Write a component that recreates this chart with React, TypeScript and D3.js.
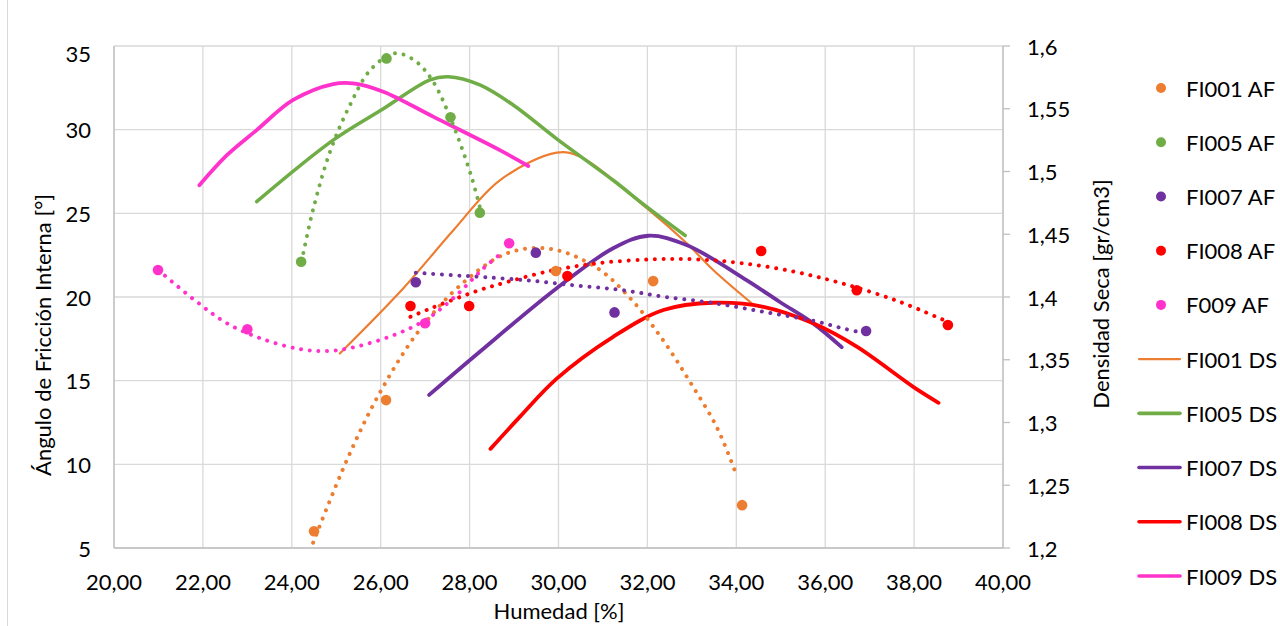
import React from "react";
import * as d3 from "d3";

// ---------- tick labels ----------
const xTicks = [20, 22, 24, 26, 28, 30, 32, 34, 36, 38, 40];
const leftTicks = [5, 10, 15, 20, 25, 30, 35];
const rightTicks = [1.2, 1.25, 1.3, 1.35, 1.4, 1.45, 1.5, 1.55, 1.6];

// ---------- AF points (Ángulo de fricción, left axis) ----------
const fi001AF: [number, number][] = [[24.5, 6.0], [26.12, 13.84], [29.94, 21.55], [32.13, 20.95], [34.13, 7.56]];
const fi005AF: [number, number][] = [[24.21, 22.11], [26.13, 34.26], [27.57, 30.74], [28.23, 25.04]];
const fi007AF: [number, number][] = [[26.79, 20.88], [29.49, 22.65], [31.26, 19.08], [36.92, 17.97]];
const fi008AF: [number, number][] = [[26.67, 19.46], [27.99, 19.46], [30.2, 21.25], [34.56, 22.75], [36.71, 20.4], [38.76, 18.33]];
const f009AF: [number, number][] = [[20.99, 21.61], [23.0, 18.07], [27.0, 18.43], [28.89, 23.21]];

// ---------- AF trendlines ----------
const fi001Trend: [number, number][] = [[24.48, 5.32], [25.24, 10.26], [25.94, 14.08], [26.84, 17.91], [27.85, 20.84], [28.86, 22.63], [29.83, 22.87], [30.87, 21.73], [31.65, 19.82], [32.35, 17.43], [32.96, 14.92], [33.57, 12.17], [34.02, 9.24]];
const fi005Trend: [number, number][] = [[24.26, 22.63], [24.48, 25.24], [24.86, 28.68], [25.29, 31.37], [25.78, 33.61], [26.32, 34.56], [26.77, 34.12], [27.18, 32.87], [27.63, 30.28], [28.03, 27.29], [28.23, 25.38]];
const fi007Trend: [number, number][] = [[26.79, 21.45], [27.63, 21.3], [28.38, 21.18], [29.4, 20.97], [30.41, 20.68], [31.41, 20.42], [32.36, 20.02], [33.48, 19.64], [34.65, 19.1], [35.73, 18.58], [36.45, 18.09], [36.78, 17.9]];
const fi008Trend: [number, number][] = [[26.67, 18.82], [27.18, 19.38], [28.23, 20.42], [28.61, 20.72], [29.73, 21.51], [30.86, 22.01], [32.1, 22.25], [33.11, 22.25], [34.16, 22.01], [35.31, 21.51], [36.37, 20.82], [37.61, 19.78], [38.66, 18.63]];
const f009Trend: [number, number][] = [[21.0, 21.6], [21.84, 19.76], [22.54, 18.43], [23.36, 17.47], [24.18, 16.89], [24.79, 16.77], [25.38, 16.99], [26.28, 17.71], [27.0, 18.62], [27.63, 19.92], [28.31, 21.71], [28.76, 22.71]];

// ---------- DS curves (Densidad seca, right axis) ----------
const fi001DS: [number, number][] = [[25.08, 1.355], [26.51, 1.407], [27.63, 1.453], [28.68, 1.493], [29.96, 1.515], [30.48, 1.512], [31.98, 1.471], [32.88, 1.443], [33.48, 1.4215], [34.38, 1.394]];
const fi005DS: [number, number][] = [[23.21, 1.476], [24.93, 1.525], [26.06, 1.55], [27.11, 1.573], [27.52, 1.5755], [28.23, 1.569], [28.98, 1.553], [29.96, 1.526], [31.23, 1.493], [31.98, 1.472], [32.85, 1.449]];
const fi007DS: [number, number][] = [[27.09, 1.322], [28.23, 1.3564], [29.96, 1.407], [31.23, 1.4388], [32.02, 1.4488], [32.88, 1.4414], [34.23, 1.4135], [34.98, 1.396], [35.73, 1.379], [36.37, 1.36]];
const fi008DS: [number, number][] = [[28.47, 1.279], [29.13, 1.3045], [29.96, 1.335], [31.23, 1.3683], [32.36, 1.3896], [33.48, 1.3954], [34.61, 1.3922], [35.73, 1.379], [36.71, 1.3604], [37.98, 1.3284], [38.55, 1.3157]];
const fi009DS: [number, number][] = [[21.92, 1.489], [22.54, 1.513], [23.21, 1.533], [24.03, 1.557], [24.93, 1.5697], [25.38, 1.5703], [26.06, 1.5636], [27.18, 1.5437], [28.68, 1.517], [29.32, 1.5044]];

const legendNames = ["FI001 AF", "FI005 AF", "FI007 AF", "FI008 AF", "F009 AF", "FI001 DS", "FI005 DS", "FI007 DS", "FI008 DS", "FI009 DS"];

const ORANGE = "#ED7D31";
const GREEN = "#70AD47";
const PURPLE = "#7030A0";
const RED = "#FF0000";
const PINK = "#FF33CC";

const FONT = "Lato, 'Open Sans', sans-serif";

export default function App() {
  const W = 1280, H = 626;
  const x = d3.scaleLinear().domain([20, 40]).range([114, 1003]);
  const yL = d3.scaleLinear().domain([5, 35]).range([548, 46]);
  const yR = d3.scaleLinear().domain([1.2, 1.6]).range([548, 46]);
  const loc = d3.formatLocale({ decimal: ",", thousands: ".", grouping: [3], currency: ["", ""] });
  const fx = loc.format(".2f");
  const fr = loc.format("~g");

  const lineL = d3.line<[number, number]>().x(d => x(d[0])).y(d => yL(d[1])).curve(d3.curveCatmullRom.alpha(0.5));
  const lineR = d3.line<[number, number]>().x(d => x(d[0])).y(d => yR(d[1])).curve(d3.curveCatmullRom.alpha(0.5));

  const ds = [
    { d: fi001DS, c: ORANGE, w: 2.2 },
    { d: fi005DS, c: GREEN, w: 3.6 },
    { d: fi007DS, c: PURPLE, w: 3.8 },
    { d: fi008DS, c: RED, w: 3.8 },
    { d: fi009DS, c: PINK, w: 3.8 },
  ];
  const trends = [
    { d: fi001Trend, c: ORANGE },
    { d: fi005Trend, c: GREEN },
    { d: fi007Trend, c: PURPLE },
    { d: fi008Trend, c: RED },
    { d: f009Trend, c: PINK },
  ];
  const af = [
    { d: fi001AF, c: ORANGE },
    { d: fi005AF, c: GREEN },
    { d: fi007AF, c: PURPLE },
    { d: fi008AF, c: RED },
    { d: f009AF, c: PINK },
  ];
  const legendColors = [ORANGE, GREEN, PURPLE, RED, PINK, ORANGE, GREEN, PURPLE, RED, PINK];
  const legendY = d3.scaleLinear().domain([0, 9]).range([88, 576]);

  return (
    <svg width={W} height={H} style={{ position: "absolute", left: 0, top: 0, background: "#fff" }} fontFamily={FONT}>
      <line x1={7.5} x2={7.5} y1={0} y2={H} stroke="#d9d9d9" strokeWidth={1} />
      {/* grid */}
      {xTicks.map(t => (
        <line key={"gx" + t} x1={x(t)} x2={x(t)} y1={46} y2={548} stroke="#d9d9d9" strokeWidth={1.3} />
      ))}
      {leftTicks.map(t => (
        <line key={"gy" + t} x1={114} x2={1003} y1={yL(t)} y2={yL(t)} stroke="#d9d9d9" strokeWidth={1.3} />
      ))}
      {/* axes */}
      <line x1={114} x2={114} y1={46} y2={548} stroke="#bfbfbf" strokeWidth={1.3} />
      <line x1={114} x2={1003} y1={548} y2={548} stroke="#bfbfbf" strokeWidth={1.3} />
      <line x1={1003} x2={1003} y1={46} y2={548} stroke="#bfbfbf" strokeWidth={1.3} />
      {rightTicks.map(t => (
        <line key={"rt" + t} x1={1003} x2={1010} y1={yR(t)} y2={yR(t)} stroke="#bfbfbf" strokeWidth={1.3} />
      ))}
      {/* tick labels */}
      {xTicks.map(t => (
        <text key={"xl" + t} x={x(t)} y={590} textAnchor="middle" fontSize={22} fill="#000">{fx(t)}</text>
      ))}
      {leftTicks.map(t => (
        <text key={"ll" + t} x={91} y={Math.max(yL(t), 53)} textAnchor="end" dominantBaseline="central" fontSize={22} fill="#000">{t}</text>
      ))}
      {rightTicks.map(t => (
        <text key={"rl" + t} x={1027} y={yR(t)} textAnchor="start" dominantBaseline="central" fontSize={22} fill="#000">{fr(t)}</text>
      ))}
      {/* axis titles */}
      <text x={559} y={619} textAnchor="middle" fontSize={22} fill="#000">Humedad [%]</text>
      <text transform="translate(42,335) rotate(-90)" textAnchor="middle" dominantBaseline="central" fontSize={22} fill="#000">Ángulo de Fricción Interna [°]</text>
      <text transform="translate(1100,294) rotate(-90)" textAnchor="middle" dominantBaseline="central" fontSize={22} fill="#000">Densidad Seca [gr/cm3]</text>
      {/* DS lines */}
      {ds.map((s, i) => (
        <path key={"ds" + i} d={lineR(s.d) || ""} fill="none" stroke={s.c} strokeWidth={s.w} strokeLinecap="round" strokeLinejoin="round" />
      ))}
      {/* trendlines */}
      {trends.map((s, i) => (
        <path key={"tr" + i} d={lineL(s.d) || ""} fill="none" stroke={s.c} strokeWidth={4} strokeLinecap="round" strokeDasharray="0.01 8.7" />
      ))}
      {/* AF markers */}
      {af.map((s, i) => (
        <g key={"af" + i}>
          {s.d.map((p, j) => (
            <circle key={j} cx={x(p[0])} cy={yL(p[1])} r={5.3} fill={s.c} />
          ))}
        </g>
      ))}
      {/* legend */}
      {legendNames.map((n, i) => (
        <g key={"lg" + i}>
          {i < 5 ? (
            <circle cx={1161} cy={legendY(i)} r={5} fill={legendColors[i]} />
          ) : (
            <line x1={1139} x2={1180} y1={legendY(i)} y2={legendY(i)} stroke={legendColors[i]} strokeWidth={i === 5 ? 2.2 : 3.6} strokeLinecap="round" />
          )}
          <text x={1186} y={legendY(i)} dominantBaseline="central" fontSize={22} fill="#000">{n}</text>
        </g>
      ))}
    </svg>
  );
}
